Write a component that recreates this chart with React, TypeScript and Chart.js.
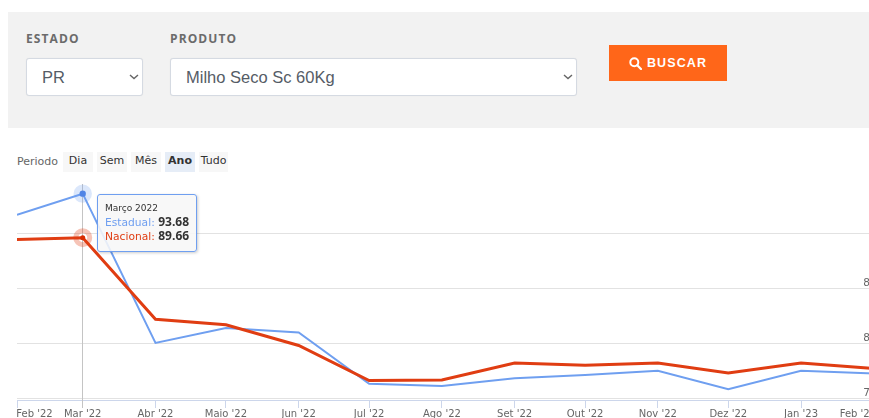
import React, { useEffect, useRef } from "react";
import { Chart, registerables } from "chart.js";

Chart.register(...registerables);

const monthDates = ["2022-02-01","2022-03-01","2022-04-01","2022-05-01","2022-06-01","2022-07-01","2022-08-01","2022-09-01","2022-10-01","2022-11-01","2022-12-01","2023-01-01","2023-02-01"];
const monthLabels = ["Feb '22","Mar '22","Abr '22","Maio '22","Jun '22","Jul '22","Ago '22","Set '22","Out '22","Nov '22","Dez '22","Jan '23","Feb '23"];
const estadual = [91.74,93.68,80.04,81.4,81.0,76.3,76.1,76.8,77.1,77.5,75.8,77.5,77.25];
const nacional = [89.5,89.66,82.2,81.7,79.8,76.6,76.65,78.2,78.0,78.2,77.3,78.2,77.7];
const yTicks = [75,80,85,90];
const yTickLabels = ["75","80","85",""];
const periodos = ["Dia","Sem","Mês","Ano","Tudo"];
const activeIndex = 1;
const activeTitle = "Março 2022";

const BLUE = "#6f9ff0";
const RED = "#e03d12";
const DEJAVU = '"DejaVu Sans", sans-serif';
const dayOf = (s: string) => Math.round((Date.parse(s) - Date.parse(monthDates[0])) / 86400000);
const days = monthDates.map(dayOf);

const crosshair = {
  id: "crosshair",
  beforeDatasetsDraw(chart: any) {
    const a = chart.getActiveElements();
    if (!a.length) return;
    const x = Math.round(a[0].element.x) - 0.5;
    const { ctx, chartArea } = chart;
    ctx.save();
    ctx.strokeStyle = "#c4c4c4";
    ctx.lineWidth = 1;
    ctx.beginPath();
    ctx.moveTo(x, 14);
    ctx.lineTo(x, chartArea.bottom + 8);
    ctx.stroke();
    ctx.restore();
  },
};

const noPad = (axis: any) => {
  axis.paddingLeft = 0;
  axis.paddingRight = 0;
  axis.paddingTop = 0;
  axis.paddingBottom = 0;
};

const chevron = `url("data:image/svg+xml,%3Csvg xmlns='http://www.w3.org/2000/svg' width='10' height='6'%3E%3Cpath d='M1 1l4 3.6L9 1' fill='none' stroke='%23666' stroke-width='1.4'/%3E%3C/svg%3E")`;

const selStyle: React.CSSProperties = {
  position: "absolute", top: 58, height: 38, boxSizing: "border-box", backgroundColor: "#fff",
  backgroundImage: chevron, backgroundRepeat: "no-repeat", backgroundPosition: "right 3px center",
  appearance: "none", WebkitAppearance: "none",
  border: "1px solid #d5dae2", borderRadius: 3, fontFamily: '"Liberation Sans", Arial, sans-serif',
  fontSize: 16.5, color: "#555c66", padding: "0 0 0 15px", boxShadow: "0 0 1px rgba(0,0,0,.08)",
};
const lblStyle: React.CSSProperties = {
  position: "absolute", top: 31, fontFamily: '"Open Sans", sans-serif', fontWeight: 700,
  fontSize: 12, letterSpacing: 1.1, color: "#6b6b6b", lineHeight: "16px",
};

export default function App() {
  const canvasRef = useRef<HTMLCanvasElement>(null);
  const tipRef = useRef<HTMLDivElement>(null);

  useEffect(() => {
    const chart = new Chart(canvasRef.current as HTMLCanvasElement, {
      type: "line",
      data: {
        datasets: [
          {
            label: "Estadual",
            data: days.map((d, i) => ({ x: d, y: estadual[i] })),
            borderColor: BLUE, borderWidth: 2, tension: 0, pointRadius: 0, order: 2,
            pointHoverRadius: 3.2, pointHoverBorderWidth: 12,
            pointHoverBackgroundColor: "#4f84e6", pointHoverBorderColor: "rgba(111,159,240,0.25)",
          },
          {
            label: "Nacional",
            data: days.map((d, i) => ({ x: d, y: nacional[i] })),
            borderColor: RED, borderWidth: 3, tension: 0, pointRadius: 0, order: 1,
            pointHoverRadius: 2.5, pointHoverBorderWidth: 14,
            pointHoverBackgroundColor: "#d92c00", pointHoverBorderColor: "rgba(224,61,18,0.3)",
          },
        ],
      },
      options: {
        animation: false,
        responsive: false,
        events: [],
        layout: { padding: { left: 17, top: 10, right: 0, bottom: 0 } },
        plugins: {
          legend: { display: false },
          tooltip: {
            enabled: false,
            mode: "index",
            external: ({ tooltip }: any) => {
              const el = tipRef.current;
              if (!el || !tooltip.dataPoints?.length) return;
              const pts = tooltip.dataPoints;
              const rows = pts.map((p: any) =>
                `<div style="height:14px;line-height:14px;white-space:nowrap"><span style="color:${p.dataset.borderColor}">${p.dataset.label}:</span> <span style="color:#333;font-family:'Open Sans',sans-serif;font-weight:700;font-size:12px">${p.parsed.y.toFixed(2)}</span></div>`
              ).join("");
              el.innerHTML = `<div style="font-size:9px;height:14px;line-height:14px;color:#333">${activeTitle}</div>${rows}`;
              el.style.display = "block";
            },
          },
        },
        scales: {
          x: {
            type: "linear",
            min: 0,
            max: dayOf("2023-02-03"),
            afterBuildTicks: (axis: any) => { axis.ticks = days.map((d) => ({ value: d })); },
            afterFit: (axis: any) => { axis.height = 18; noPad(axis); },
            grid: { drawOnChartArea: false, drawTicks: true, tickLength: 8, tickColor: "#ccd6eb", tickWidth: 1 },
            border: { display: true, color: "#ccd6eb", width: 1 },
            ticks: {
              autoSkip: false, maxRotation: 0, padding: 0, color: "#666",
              font: { family: DEJAVU, size: 10 },
              callback: (v: any) => {
                const i = days.indexOf(Number(v));
                const t = monthLabels[i] ?? "";
                if (i === 0) return "\u00a0".repeat(11) + t;
                if (i === days.length - 1) return t + "\u00a0".repeat(10);
                return t;
              },
            },
          },
          y: {
            position: "right",
            min: 74.82,
            max: 94.93,
            afterBuildTicks: (axis: any) => { axis.ticks = yTicks.map((v) => ({ value: v })); },
            afterFit: (axis: any) => { axis.width = 0; noPad(axis); },
            grid: { color: "#e2e2e2", lineWidth: 1, drawTicks: false },
            border: { display: false },
            ticks: {
              mirror: true, padding: -2, color: "#666",
              font: { family: DEJAVU, size: 10.5, lineHeight: 1 },
              callback: (v: any) => [yTickLabels[yTicks.indexOf(Number(v))] ?? "", ""],
            },
          },
        },
      },
      plugins: [crosshair],
    } as any);
    const active = [
      { datasetIndex: 0, index: activeIndex },
      { datasetIndex: 1, index: activeIndex },
    ];
    chart.setActiveElements(active);
    chart.tooltip?.setActiveElements(active, { x: 0, y: 0 });
    chart.update();
    return () => chart.destroy();
  }, []);

  return (
    <div style={{ position: "fixed", left: 0, top: 0, width: 869, height: 418, overflow: "hidden", background: "#fff" }}>
      <div style={{ position: "absolute", left: 8, top: 12, width: 861, height: 116, background: "#f2f2f2" }} />
      <div style={{ ...lblStyle, left: 26 }}>ESTADO</div>
      <div style={{ ...lblStyle, left: 170 }}>PRODUTO</div>
      <select style={{ ...selStyle, left: 26, width: 117 }} defaultValue="PR"><option>PR</option></select>
      <select style={{ ...selStyle, left: 170, width: 407 }} defaultValue="Milho Seco Sc 60Kg"><option>Milho Seco Sc 60Kg</option></select>
      <div style={{ position: "absolute", left: 609, top: 45, width: 118, height: 36, background: "#ff6619", color: "#fff", display: "flex", alignItems: "center", justifyContent: "center", gap: 5, fontFamily: '"Liberation Sans", Arial, sans-serif', fontWeight: 700, fontSize: 12.5, letterSpacing: 1.1 }}>
        <svg width="13" height="13" viewBox="0 0 13 13"><circle cx="5.3" cy="5.3" r="4" fill="none" stroke="#fff" strokeWidth="2" /><line x1="8.2" y1="8.2" x2="12" y2="12" stroke="#fff" strokeWidth="2.2" strokeLinecap="round" /></svg>
        <span>BUSCAR</span>
      </div>
      <div style={{ position: "absolute", left: 17, top: 154, fontFamily: DEJAVU, fontSize: 11, color: "#666", lineHeight: "15px" }}>Periodo</div>
      {periodos.map((p, i) => (
        <div key={p} style={{ position: "absolute", left: 63 + i * 34, top: 152, width: i === 4 ? 29 : 30, height: 20, lineHeight: "18px", textAlign: "center", fontFamily: DEJAVU, fontSize: 11, background: p === "Ano" ? "#e6edf7" : "#f7f7f7", color: "#333", fontWeight: p === "Ano" ? 700 : 400 }}>{p}</div>
      ))}
      <canvas ref={canvasRef} width={880} height={248} style={{ position: "absolute", left: 0, top: 170, display: "block" }} />
      <div ref={tipRef} style={{ position: "absolute", left: 97, top: 194, width: 100, height: 58, boxSizing: "border-box", padding: "6px 7px", background: "rgba(247,247,247,0.88)", border: `1px solid ${BLUE}`, borderRadius: 3, boxShadow: "1px 1px 3px rgba(0,0,0,.2)", fontFamily: DEJAVU, fontSize: 10.7, display: "none" }} />
    </div>
  );
}
